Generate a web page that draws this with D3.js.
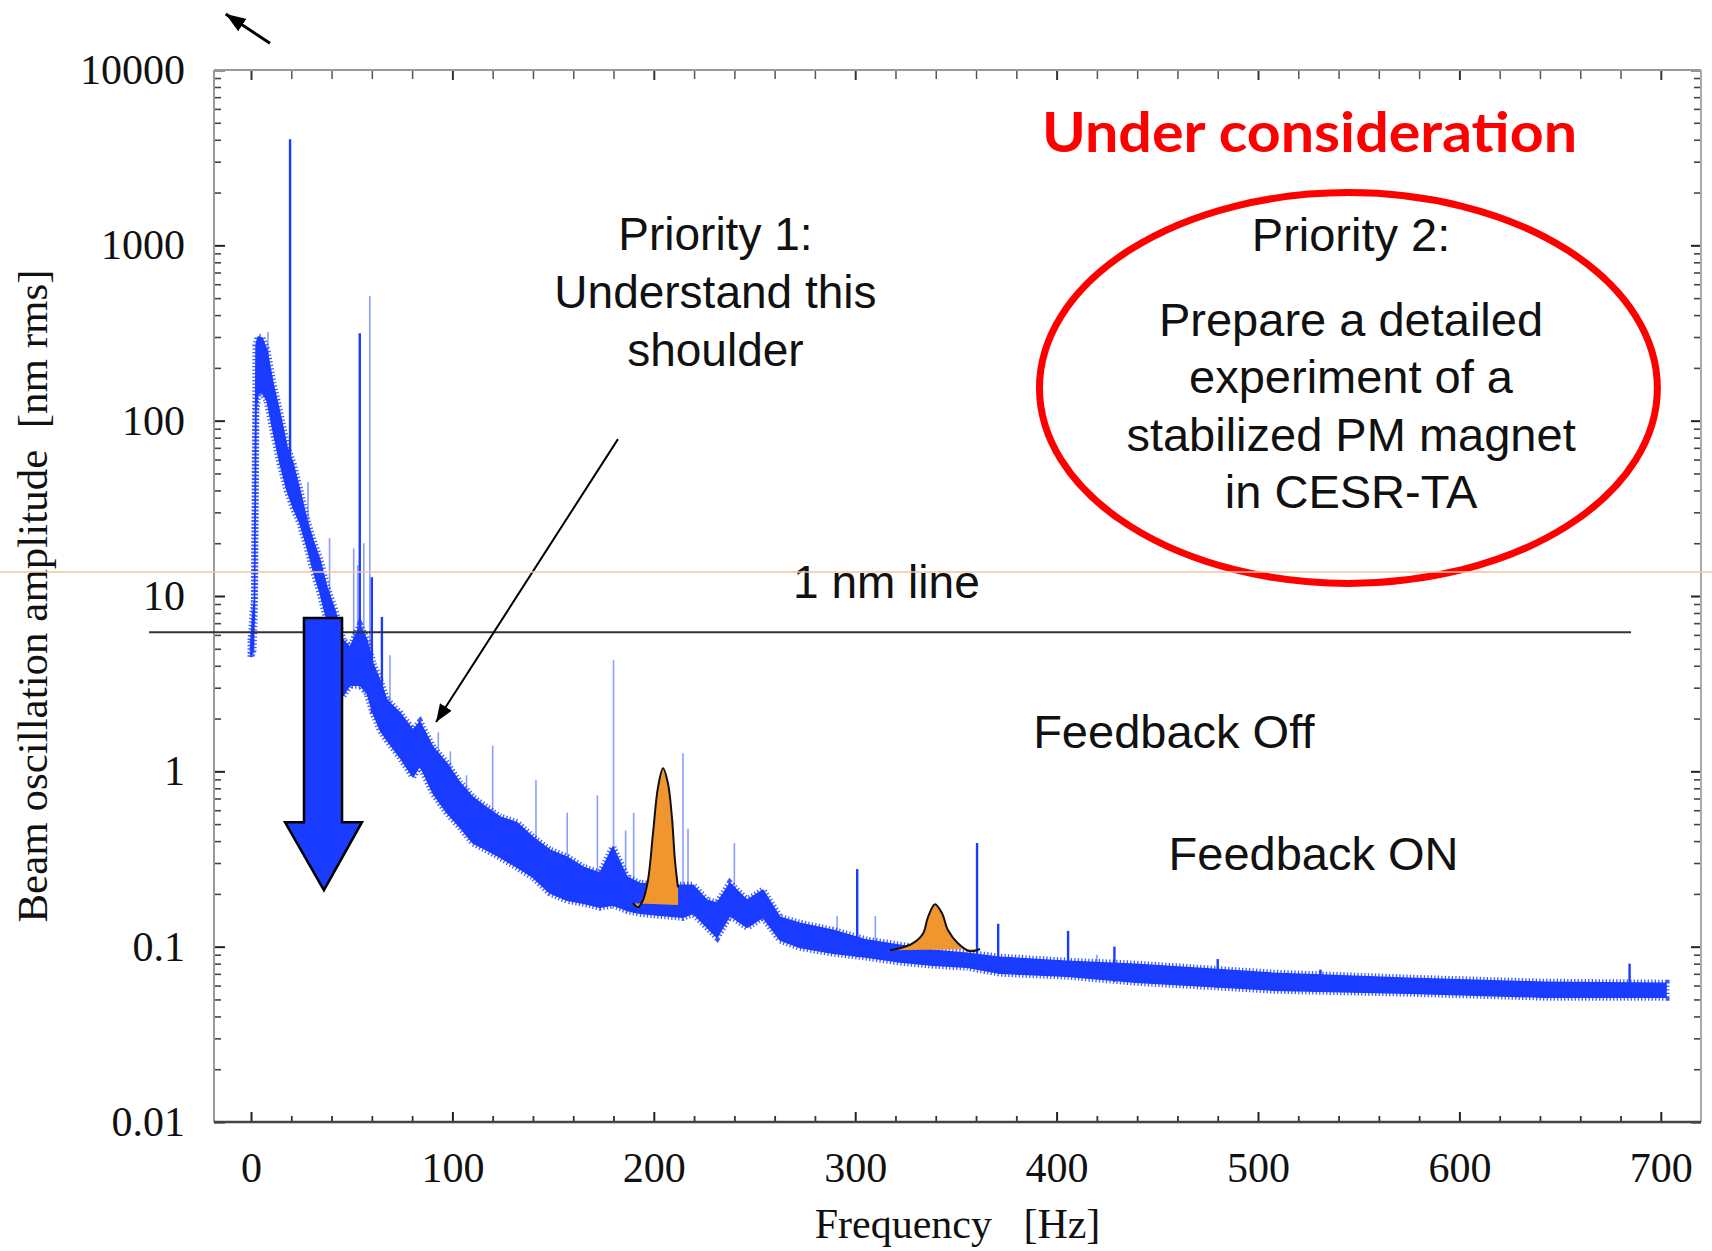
<!DOCTYPE html>
<html><head><meta charset="utf-8">
<script src="https://cdn.jsdelivr.net/npm/d3@7"></script>
<style>html,body{margin:0;padding:0;background:#fff;} svg{display:block;}</style>
</head><body>
<svg id="chart" width="1712" height="1251"></svg>
<script>
// ---------------- DATA ----------------
const xDomain = [-18.37, 719.96];           // Hz
const yDomain = [0.01, 10000];              // nm rms (log)
const xTickValues = [0, 100, 200, 300, 400, 500, 600, 700];
const xTickLabels = ["0", "100", "200", "300", "400", "500", "600", "700"];
const yTickValues = [0.01, 0.1, 1, 10, 100, 1000, 10000];
const yTickLabels = ["0.01", "0.1", "1", "10", "100", "1000", "10000"];
const xTitle = "Frequency   [Hz]";
const yTitle = "Beam oscillation amplitude  [nm rms]";

// spectrum envelope (noisy band): frequency, upper edge, lower edge
const bandFreq = [0,1.0,1.7,2.5,3.5,5.5,7.9,10.9,14.4,17.9,20.9,24.3,27.8,30.8,34.3,37.7,41.7,45.7,49.2,54.1,57.6,60.6,64.1,67.5,74,80.4,83.9,90.4,97.3,103.8,110.2,117.2,123.6,132,140,148.5,157,165,173.3,179.7,186.7,193,203,214.5,219.5,226.4,231.4,237.8,246.3,254.2,262.7,272.6,289,305.9,322.2,338.6,355.5,371.9,405.2,439.4,507.4,575,642.5,702.6];
const bandHigh = [5.6,8.1,9.5,270,300,296,253,164,110,71,57,40,27,20.8,16,11.2,8.3,5.6,5.1,6.8,5.6,4.1,3.3,2.55,2.15,1.72,1.91,1.37,1.11,0.86,0.71,0.62,0.55,0.51,0.42,0.355,0.324,0.284,0.262,0.37,0.249,0.23,0.224,0.224,0.224,0.184,0.177,0.23,0.184,0.21,0.147,0.136,0.124,0.109,0.102,0.0955,0.0918,0.0871,0.0826,0.0795,0.0706,0.0661,0.0627,0.0619];
const bandLow = [4.5,4.9,7.8,115,144,144,131,88,57,40,32,26,19,14.1,10.4,7.3,4.9,2.7,3.1,3.1,2.8,2.15,1.72,1.51,1.2,0.93,1.08,0.75,0.58,0.48,0.39,0.355,0.324,0.284,0.249,0.202,0.184,0.177,0.168,0.173,0.161,0.155,0.151,0.147,0.155,0.129,0.113,0.151,0.129,0.147,0.109,0.099,0.0918,0.0871,0.0817,0.0784,0.0764,0.0706,0.0679,0.0627,0.0565,0.0543,0.0515,0.0515];

// narrow spectral lines
const strongSpikeFreq = [19.4, 54, 60, 65, 301, 360.5, 371, 405.7, 428.7, 480, 531, 684.5];
const strongSpikeTop  = [4030, 315, 12.8, 7.6, 0.277, 0.39, 0.135, 0.123, 0.1, 0.085, 0.074, 0.08];
const strongSpikeBase = [40, 3.1, 2.15, 1.72, 0.0871, 0.0764, 0.0706, 0.0679, 0.063, 0.058, 0.056, 0.0515];
const faintSpikeFreq = [8.4, 28.3, 39, 51, 53, 56, 59, 69, 74, 93, 99, 107, 120, 141.5, 157, 172, 180, 186, 190, 214.5, 217, 240, 291, 310, 420];
const faintSpikeTop  = [320, 44.7, 21.4, 18.7, 15, 20, 514, 4.6, 2.2, 1.67, 1.3, 0.95, 1.4, 0.89, 0.58, 0.73, 4.3, 0.46, 0.58, 1.27, 0.47, 0.39, 0.15, 0.15, 0.09];
const faintSpikeBase = [131, 19, 7.3, 3.1, 3.1, 2.8, 2.8, 1.51, 1.2, 0.75, 0.58, 0.48, 0.355, 0.249, 0.184, 0.168, 0.173, 0.161, 0.155, 0.147, 0.155, 0.151, 0.0918, 0.0871, 0.065];

// highlighted (orange) peaks
const peak1Freq = [189.7,192.2,194.6,197.1,199.6,202.1,204.6,207.0,209.0,210.5,212.0,212.0];
const peak1Val  = [0.177,0.168,0.184,0.239,0.443,0.813,1.04,0.857,0.548,0.311,0.218,0.173];
const peak2Freq = [317.3,322.2,328.7,333.7,336.1,339.6,343.1,346.1,351.0,357.0,362.0];
const peak2Val  = [0.0955,0.098,0.1047,0.119,0.147,0.1746,0.155,0.124,0.1047,0.0942,0.097];

// reference levels
const oneNmLevel = 6.22;            const oneNmSpan = [-50.6, 685.2];
const guideLevel = 13.7;

// annotation anchors (data space)
const shoulderArrowFrom = [182.2, 78.5],  shoulderArrowTo = [91.9, 1.91];
const cornerArrowFrom = [9.43, 14200],    cornerArrowTo = [-12.56, 20850];
const bigArrowShaft = [26.3, 45.2], bigArrowHead = [16.9, 55.1];
const bigArrowTop = 7.5, bigArrowHeadBase = 0.513, bigArrowTip = [36.2, 0.21];
const ellipseFreq = [391.5, 698.3], ellipseVal = [11.8, 2000];

const priority1Lines = ["Priority 1:", "Understand this", "shoulder"];
const priority1Anchor = [230.6, 940];
const priority2Title = "Priority 2:";  const priority2TitleAnchor = [546.2, 927];
const priority2Lines = ["Prepare a detailed", "experiment of a", "stabilized PM magnet", "in CESR-TA"];
const priority2Anchor = [546.2, 304];
const oneNmLabel = "1 nm line";       const oneNmAnchor = [315.5, 9.73];
const fbOffLabel = "Feedback Off";    const fbOffAnchor = [458.2, 1.355];
const fbOnLabel = "Feedback ON";      const fbOnAnchor = [527.6, 0.273];
const headline = "Under consideration"; const headlineAnchor = [525.6, 3404];

// ---------------- DRAWING ----------------
const W = 1712, H = 1251;
const plot = {left: 214, right: 1701, top: 70, bottom: 1122};
const serif = '"Liberation Serif","Times New Roman",Times,serif';
const sans = '"Liberation Sans",Arial,Helvetica,sans-serif';
const BLUE = "#1a3cff";

const svg = d3.select("#chart");
svg.append("rect").attr("width", W).attr("height", H).attr("fill", "#fff");

const x = d3.scaleLinear().domain(xDomain).range([plot.left, plot.right]);
const y = d3.scaleLog().domain(yDomain).range([plot.bottom, plot.top]);

const defs = svg.append("defs");
defs.append("clipPath").attr("id", "clip").append("rect")
  .attr("x", plot.left).attr("y", plot.top)
  .attr("width", plot.right - plot.left).attr("height", plot.bottom - plot.top);
function marker(id, w, h) {
  defs.append("marker").attr("id", id).attr("viewBox", "0 0 10 10")
    .attr("refX", 10).attr("refY", 5).attr("markerWidth", w).attr("markerHeight", h)
    .attr("markerUnits", "userSpaceOnUse").attr("orient", "auto")
    .attr("preserveAspectRatio", "none")
    .append("path").attr("d", "M0,0 L10,5 L0,10 z").attr("fill", "#000");
}
marker("ah", 20, 15);
marker("ah2", 18, 14);

// minor tick values
const xMinor = d3.range(0, 701, 20).filter(v => v % 100 !== 0);
const yMinor = [];
for (let e = -2; e < 4; e++) for (let k = 2; k <= 9; k++) yMinor.push(k * Math.pow(10, e));

function styleAxis(g, w, col) {
  g.select(".domain").remove();
  g.selectAll(".tick line").attr("stroke", col).attr("stroke-width", w);
}
// bottom
const gb = svg.append("g").attr("transform", `translate(0,${plot.bottom})`)
  .call(d3.axisBottom(x).tickValues(xTickValues).tickFormat((d, i) => xTickLabels[i])
    .tickSizeInner(-10).tickSizeOuter(0).tickPadding(30));
styleAxis(gb, 2, "#222");
gb.selectAll("text").attr("font-family", serif).attr("font-size", 42).attr("fill", "#111");
const gbm = svg.append("g").attr("transform", `translate(0,${plot.bottom})`)
  .call(d3.axisBottom(x).tickValues(xMinor).tickFormat("").tickSizeInner(-6).tickSizeOuter(0));
styleAxis(gbm, 1.8, "#333");
// top
const gt = svg.append("g").attr("transform", `translate(0,${plot.top})`)
  .call(d3.axisTop(x).tickValues(xTickValues).tickFormat("").tickSizeInner(-10).tickSizeOuter(0));
styleAxis(gt, 2, "#333");
const gtm = svg.append("g").attr("transform", `translate(0,${plot.top})`)
  .call(d3.axisTop(x).tickValues(xMinor).tickFormat("").tickSizeInner(-9).tickSizeOuter(0));
styleAxis(gtm, 1.5, "#555");
// left
const gl = svg.append("g").attr("transform", `translate(${plot.left},0)`)
  .call(d3.axisLeft(y).tickValues(yTickValues).tickFormat((d, i) => yTickLabels[i])
    .tickSizeInner(-11).tickSizeOuter(0).tickPadding(29));
styleAxis(gl, 2, "#222");
gl.selectAll("text").attr("font-family", serif).attr("font-size", 42).attr("fill", "#111");
const glm = svg.append("g").attr("transform", `translate(${plot.left},0)`)
  .call(d3.axisLeft(y).tickValues(yMinor).tickFormat("").tickSizeInner(-7).tickSizeOuter(0));
styleAxis(glm, 1.6, "#444");
// right
const gr = svg.append("g").attr("transform", `translate(${plot.right},0)`)
  .call(d3.axisRight(y).tickValues(yTickValues).tickFormat("").tickSizeInner(-10).tickSizeOuter(0));
styleAxis(gr, 2, "#222");
const grm = svg.append("g").attr("transform", `translate(${plot.right},0)`)
  .call(d3.axisRight(y).tickValues(yMinor).tickFormat("").tickSizeInner(-7).tickSizeOuter(0));
styleAxis(grm, 1.6, "#444");

// frame
svg.append("line").attr("x1", plot.left).attr("x2", plot.right).attr("y1", plot.top).attr("y2", plot.top)
  .attr("stroke", "#999").attr("stroke-width", 2);
svg.append("line").attr("x1", plot.left).attr("x2", plot.left).attr("y1", plot.top).attr("y2", plot.bottom)
  .attr("stroke", "#999").attr("stroke-width", 2);
svg.append("line").attr("x1", plot.right).attr("x2", plot.right).attr("y1", plot.top).attr("y2", plot.bottom)
  .attr("stroke", "#aaa").attr("stroke-width", 2);
svg.append("line").attr("x1", plot.left).attr("x2", plot.right).attr("y1", plot.bottom).attr("y2", plot.bottom)
  .attr("stroke", "#444").attr("stroke-width", 2.5);

// axis titles
svg.append("text").attr("x", (plot.left + plot.right) / 2).attr("y", plot.bottom + 116)
  .attr("text-anchor", "middle").attr("font-family", serif).attr("font-size", 42).attr("fill", "#111")
  .style("white-space", "pre").text(xTitle);
svg.append("text").attr("transform", `translate(47,${(plot.top + plot.bottom) / 2}) rotate(-90)`)
  .attr("text-anchor", "middle").attr("font-family", serif).attr("font-size", 43).attr("fill", "#111")
  .style("white-space", "pre").text(yTitle);

// spectrum
const gData = svg.append("g").attr("clip-path", "url(#clip)");
const band = bandFreq.map((f, i) => ({f, hi: bandHigh[i], lo: bandLow[i]}));
const bandArea = d3.area().x(d => x(d.f)).y0(d => y(d.lo)).y1(d => y(d.hi));
gData.append("path").datum(band).attr("d", bandArea)
  .attr("fill", BLUE).attr("stroke", BLUE).attr("stroke-width", 1.5).attr("stroke-linejoin", "round");
// fuzzy, noisy-looking edge of the band
gData.append("path").datum(band).attr("d", bandArea)
  .attr("fill", "none").attr("stroke", BLUE).attr("stroke-width", 7)
  .attr("stroke-dasharray", "1.3 2.2").attr("stroke-opacity", 0.85);
gData.selectAll("line.faint").data(faintSpikeFreq.map((f, i) => ({f, t: faintSpikeTop[i], b: faintSpikeBase[i]})))
  .join("line").attr("class", "faint")
  .attr("x1", d => x(d.f)).attr("x2", d => x(d.f)).attr("y1", d => y(d.b)).attr("y2", d => y(d.t))
  .attr("stroke", BLUE).attr("stroke-opacity", 0.5).attr("stroke-width", 1.6);
gData.selectAll("line.strong").data(strongSpikeFreq.map((f, i) => ({f, t: strongSpikeTop[i], b: strongSpikeBase[i]})))
  .join("line").attr("class", "strong")
  .attr("x1", d => x(d.f)).attr("x2", d => x(d.f)).attr("y1", d => y(d.b)).attr("y2", d => y(d.t))
  .attr("stroke", BLUE).attr("stroke-width", 2.4);

// orange peaks
function drawPeak(fs, vs, outlineN) {
  const pts = fs.map((f, i) => [x(f), y(vs[i])]);
  svg.append("path").attr("d", d3.line().curve(d3.curveCatmullRom)(pts) + "Z")
    .attr("fill", "#f0962e");
  svg.append("path").attr("d", d3.line().curve(d3.curveCatmullRom)(pts.slice(0, outlineN)))
    .attr("fill", "none").attr("stroke", "#111").attr("stroke-width", 2);
}
drawPeak(peak1Freq, peak1Val, peak1Freq.length - 1);
drawPeak(peak2Freq, peak2Val, peak2Freq.length);

// 1 nm line
svg.append("line").attr("x1", x(oneNmSpan[0])).attr("x2", x(oneNmSpan[1]))
  .attr("y1", y(oneNmLevel)).attr("y2", y(oneNmLevel)).attr("stroke", "#333").attr("stroke-width", 2);

// big blue arrow
const bigArrowPts = [
  [bigArrowShaft[0], bigArrowTop], [bigArrowShaft[1], bigArrowTop], [bigArrowShaft[1], bigArrowHeadBase],
  [bigArrowHead[1], bigArrowHeadBase], [bigArrowTip[0], bigArrowTip[1]], [bigArrowHead[0], bigArrowHeadBase],
  [bigArrowShaft[0], bigArrowHeadBase]
].map(p => [x(p[0]), y(p[1])]);
svg.append("path").attr("d", d3.line()(bigArrowPts) + "Z")
  .attr("fill", BLUE).attr("stroke", "#000").attr("stroke-width", 2.5).attr("stroke-linejoin", "miter");

// arrows
svg.append("line").attr("x1", x(shoulderArrowFrom[0])).attr("y1", y(shoulderArrowFrom[1]))
  .attr("x2", x(shoulderArrowTo[0])).attr("y2", y(shoulderArrowTo[1]))
  .attr("stroke", "#000").attr("stroke-width", 2).attr("marker-end", "url(#ah2)");
svg.append("line").attr("x1", x(cornerArrowFrom[0])).attr("y1", y(cornerArrowFrom[1]))
  .attr("x2", x(cornerArrowTo[0])).attr("y2", y(cornerArrowTo[1]))
  .attr("stroke", "#000").attr("stroke-width", 3).attr("marker-end", "url(#ah)");

// ellipse
const ex0 = x(ellipseFreq[0]), ex1 = x(ellipseFreq[1]), ey0 = y(ellipseVal[1]), ey1 = y(ellipseVal[0]);
svg.append("ellipse").attr("cx", (ex0 + ex1) / 2).attr("cy", (ey0 + ey1) / 2)
  .attr("rx", (ex1 - ex0) / 2).attr("ry", (ey1 - ey0) / 2)
  .attr("fill", "none").attr("stroke", "#ff0000").attr("stroke-width", 7);

// texts
function block(lines, anchor, size, lh) {
  const t = svg.append("text").attr("x", x(anchor[0])).attr("y", y(anchor[1]))
    .attr("text-anchor", "middle").attr("font-family", sans).attr("font-size", size).attr("fill", "#111");
  lines.forEach((s, i) => t.append("tspan").attr("x", x(anchor[0])).attr("dy", i === 0 ? 0 : lh).text(s));
}
block(priority1Lines, priority1Anchor, 46, 58);
block([priority2Title], priority2TitleAnchor, 47, 0);
block(priority2Lines, priority2Anchor, 47, 57.3);
block([oneNmLabel], oneNmAnchor, 46, 0);
block([fbOffLabel], fbOffAnchor, 47, 0);
block([fbOnLabel], fbOnAnchor, 47, 0);
svg.append("text").attr("x", x(headlineAnchor[0])).attr("y", y(headlineAnchor[1]))
  .attr("text-anchor", "middle").attr("font-family", 'Lato,"Open Sans",sans-serif').attr("font-weight", 700)
  .attr("font-size", 56).attr("fill", "#ff0000")
  .attr("textLength", 535).attr("lengthAdjust", "spacingAndGlyphs").text(headline);

// thin orange guide line across the slide
svg.append("line").attr("x1", 0).attr("x2", W).attr("y1", y(guideLevel)).attr("y2", y(guideLevel))
  .attr("stroke", "#f5c49a").attr("stroke-width", 1.5);
</script>
</body></html>
